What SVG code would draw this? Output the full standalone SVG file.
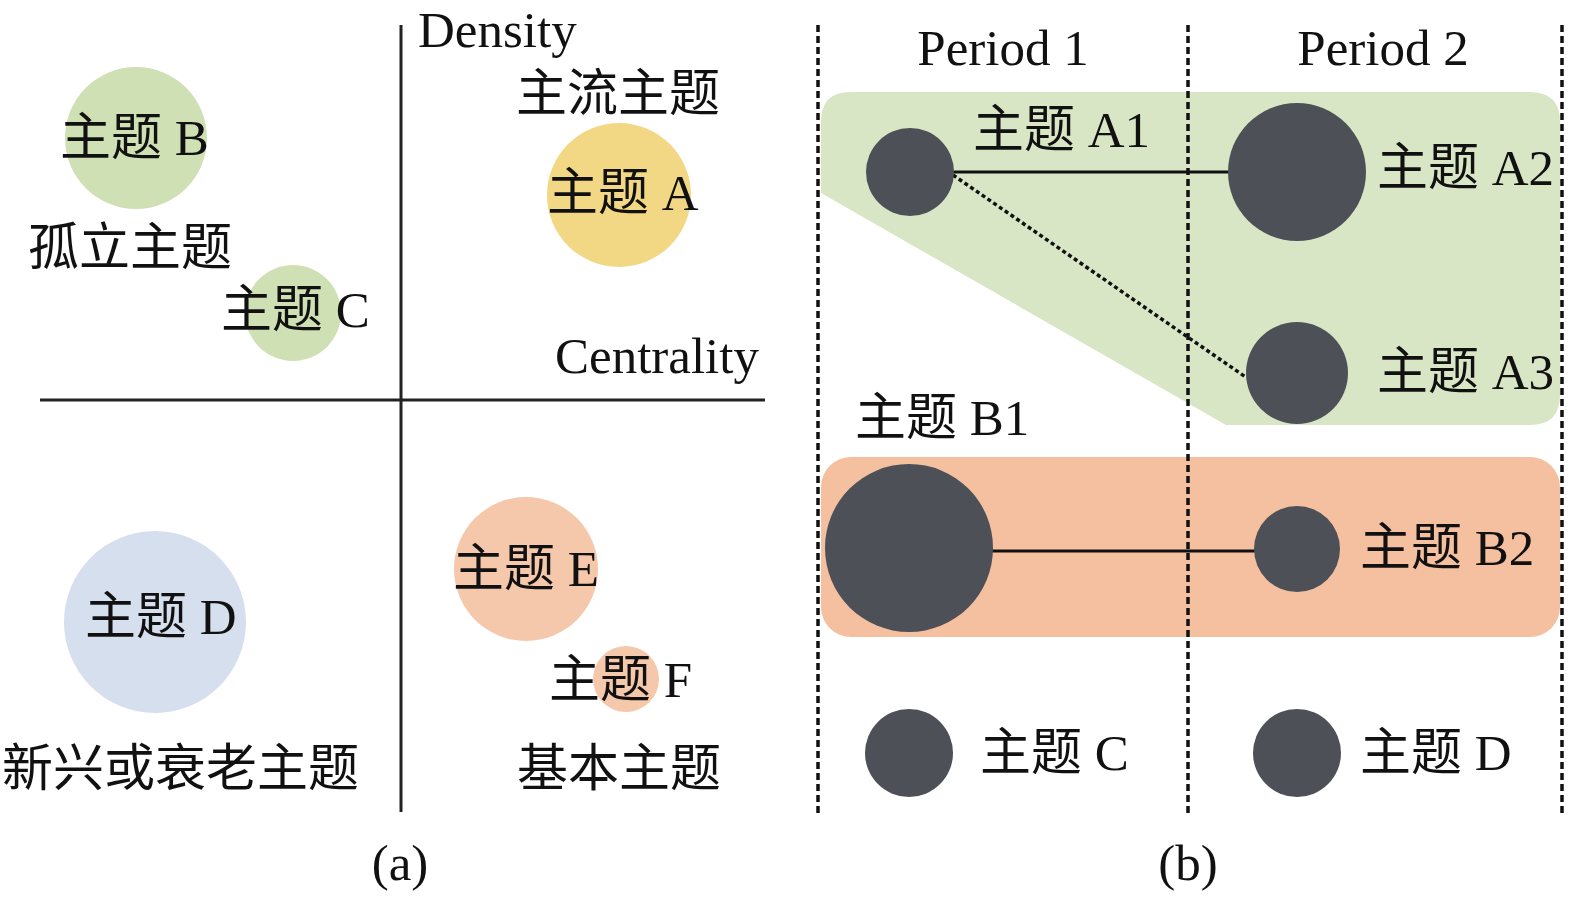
<svg xmlns="http://www.w3.org/2000/svg" width="1575" height="905" viewBox="0 0 1575 905">
<style>
text{font-family:"Liberation Serif","Noto Sans CJK SC",serif;font-size:51px;fill:#111}
.axis{stroke:#222;stroke-width:3;fill:none}
.sep{stroke:#111;stroke-width:3.5;stroke-dasharray:7 4;fill:none}
.node{fill:#4d5157}
.edge{stroke:#111;stroke-width:3;fill:none}
.dot{stroke:#111;stroke-width:3.5;stroke-dasharray:4 3;fill:none}
</style>
<rect width="1575" height="905" fill="#fff"/>
<g id="panel-a">
  <g id="axes">
    <line class="axis" x1="401" y1="25" x2="401" y2="812"/>
    <line class="axis" x1="40" y1="400" x2="765" y2="400"/>
  </g>
  <text x="418" y="47">Density</text>
  <text x="555" y="373">Centrality</text>
  <text x="516" y="111">主流主题</text>
  <text x="28" y="265">孤立主题</text>
  <text x="2" y="786">新兴或衰老主题</text>
  <text x="517" y="786">基本主题</text>
  <g id="topic-b"><circle cx="136" cy="138" r="71" fill="#cfe0b5"/><text x="60" y="155">主题 B</text></g>
  <g id="topic-c"><circle cx="293" cy="313" r="48" fill="#cfe0b5"/><text x="221" y="327">主题 C</text></g>
  <g id="topic-a"><circle cx="619" cy="195" r="72" fill="#f2d784"/><text x="547" y="210">主题 A</text></g>
  <g id="topic-e"><circle cx="526" cy="569" r="72" fill="#f5c7ab"/><text x="453" y="586">主题 E</text></g>
  <g id="topic-f"><circle cx="626" cy="679" r="33" fill="#f5c7ab"/><text x="549" y="697">主题 F</text></g>
  <g id="topic-d"><circle cx="155" cy="622" r="91" fill="#d6dfee"/><text x="85" y="634">主题 D</text></g>
  <text x="400" y="880" text-anchor="middle">(a)</text>
</g>
<g id="panel-b">
  <g id="groups">
    <path id="group-a" d="M850,92 H1530 Q1560,92 1560,122 V395 Q1560,425 1530,425 H1226 L821,193 V122 Q821,92 850,92 Z" fill="#d9e6c6"/>
    <rect id="group-b" x="821" y="457" width="739" height="180" rx="30" fill="#f4c0a0"/>
  </g>
  <g id="separators">
    <line class="sep" x1="818" y1="25" x2="818" y2="816"/>
    <line class="sep" x1="1188" y1="25" x2="1188" y2="816"/>
    <line class="sep" x1="1562" y1="25" x2="1562" y2="816"/>
  </g>
  <text x="1003" y="65" text-anchor="middle">Period 1</text>
  <text x="1383" y="65" text-anchor="middle">Period 2</text>
  <g id="connectors">
    <line class="edge" x1="950" y1="172" x2="1232" y2="172"/>
    <line class="dot" x1="953" y1="175" x2="1247" y2="378"/>
    <line class="edge" x1="990" y1="551" x2="1256" y2="551"/>
  </g>
  <g id="a1"><circle class="node" cx="910" cy="172" r="44"/><text x="973" y="147">主题 A1</text></g>
  <g id="a2"><circle class="node" cx="1297" cy="172" r="69"/><text x="1377" y="185">主题 A2</text></g>
  <g id="a3"><circle class="node" cx="1297" cy="373" r="51"/><text x="1377" y="389">主题 A3</text></g>
  <g id="b1"><circle class="node" cx="909" cy="548" r="84"/><text x="855" y="435">主题 B1</text></g>
  <g id="b2"><circle class="node" cx="1297" cy="549" r="43"/><text x="1360" y="565">主题 B2</text></g>
  <g id="c"><circle class="node" cx="909" cy="753" r="44"/><text x="980" y="770">主题 C</text></g>
  <g id="d"><circle class="node" cx="1297" cy="753" r="44"/><text x="1360" y="770">主题 D</text></g>
  <text x="1188" y="880" text-anchor="middle">(b)</text>
</g>
</svg>
